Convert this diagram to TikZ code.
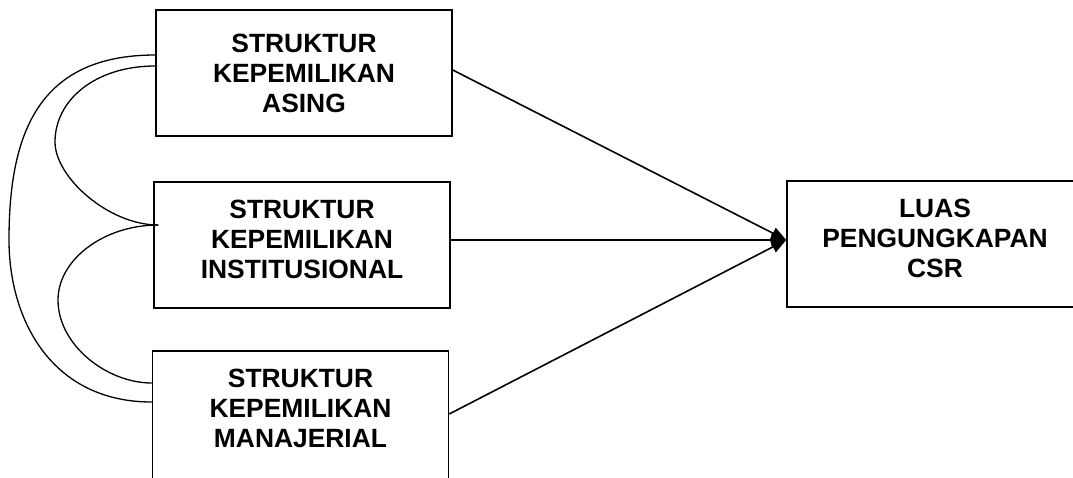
\documentclass[tikz,border=0pt]{standalone}
\usepackage{fontspec}
\setmainfont{Liberation Sans}
\usetikzlibrary{calc,arrows.meta}
\tikzset{
  varbox/.style={draw, line width=1.5pt, minimum width=296pt, minimum height=126pt,
    align=center, inner sep=0pt,
    font=\fontsize{26.4pt}{30pt}\selectfont\bfseries},
  lifted/.style={text depth=12pt},
  path/.style={line width=1.6pt, -{Triangle[length=15pt,width=12pt]}},
  corr/.style={line width=1.3pt}
}
\begin{document}
\begin{tikzpicture}[x=1pt, y=-1pt]
  \useasboundingbox (0,0) rectangle (1073,477);
  \clip (0,0) rectangle (1073,477);

  % exogenous variables
  \node[varbox] (asing) at (304,73) {STRUKTUR\\KEPEMILIKAN\\ASING};
  \node[varbox, lifted] (inst) at (302,245) {STRUKTUR\\KEPEMILIKAN\\INSTITUSIONAL};
  \node[varbox, minimum height=130pt, text depth=16pt] (manaj) at (300.5,416) {STRUKTUR\\KEPEMILIKAN\\MANAJERIAL};

  % endogenous variable
  \node[varbox, lifted] (luas) at (935,244) {LUAS\\PENGUNGKAPAN\\CSR};

  % common arrow tip on the dependent variable
  \coordinate (tip) at ($(luas.west)+(0,-4)$);

  % causal paths
  \draw[path] ($(asing.east)+(0,-3)$) -- (tip);
  \draw[path] ($(inst.east)+(0,-5)$) -- (tip);
  \draw[path] ($(manaj.east)+(0,-2)$) -- (tip);

  % correlations between the ownership structures
  \coordinate (instjoin) at ($(inst.west)+(5,-20)$);
  \coordinate (outerleft) at (9,240);
  \coordinate (upperleft) at (55,142);
  \coordinate (lowerleft) at (58,300);
  \draw[corr] ($(asing.west)+(0,-18)$) .. controls +(-118,0) and +(0,-105) .. (outerleft)
              .. controls +(0,80) and +(-100,0) .. ($(manaj.west)+(0,-14)$);
  \draw[corr] ($(asing.west)+(0,-7)$) .. controls +(-60,0) and +(0,-42) .. (upperleft)
              .. controls +(0,35) and +(-50,0) .. (instjoin);
  \draw[corr] (instjoin) .. controls +(-55,0) and +(0,-40) .. (lowerleft)
              .. controls +(0,45) and +(-45,0) .. ($(manaj.west)+(0,-33)$);
\end{tikzpicture}
\end{document}
